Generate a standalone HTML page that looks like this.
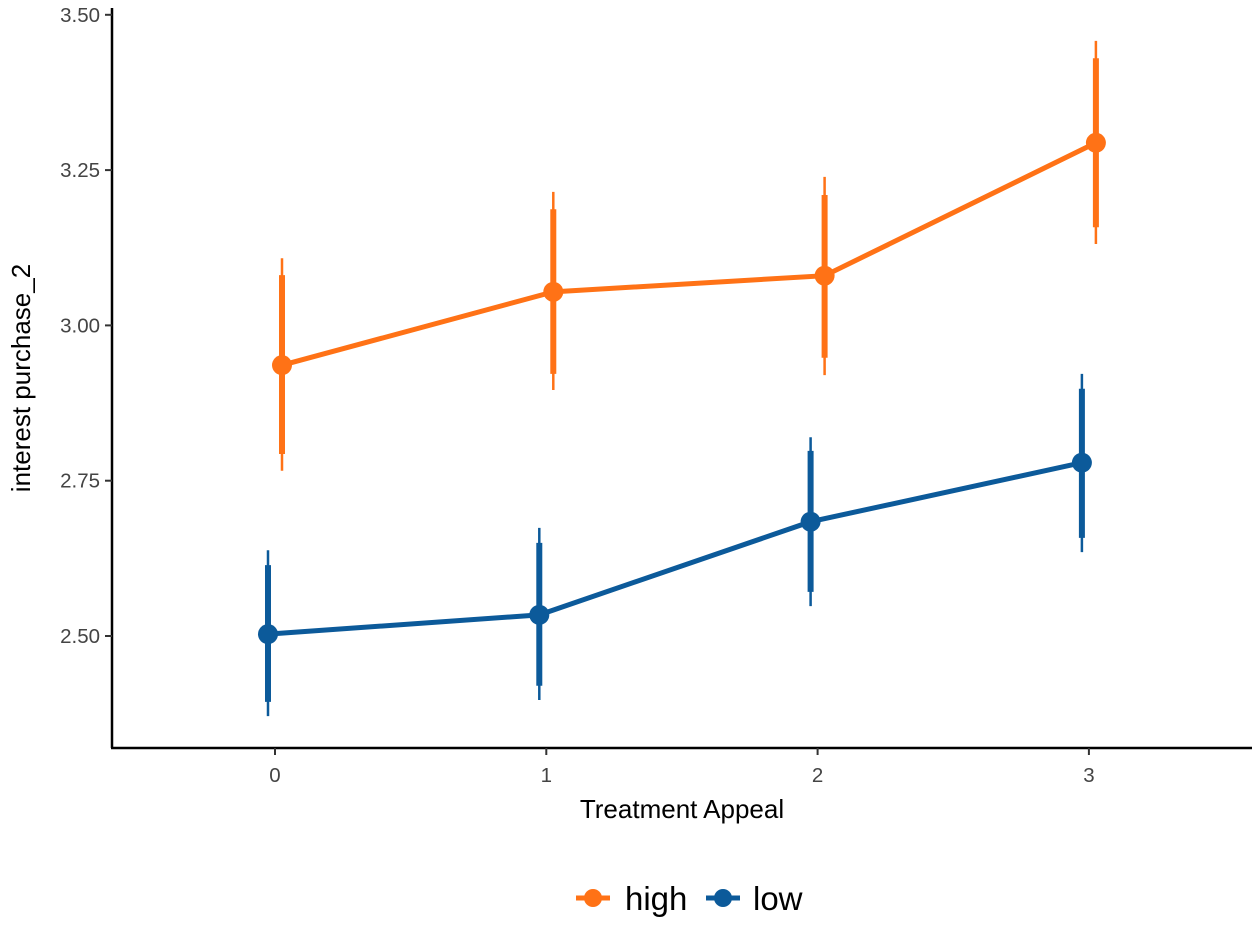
<!DOCTYPE html>
<html><head><meta charset="utf-8"><style>
body{margin:0;background:#fff;}
svg text{font-family:"Liberation Sans",Arial,sans-serif;}
</style></head><body>
<svg id="chart" width="1259" height="944">
<g id="axes"></g><g id="marks"></g>
<text x="682" y="818" text-anchor="middle" font-size="26" fill="#000">Treatment Appeal</text>
<text transform="translate(30,378) rotate(-90)" text-anchor="middle" font-size="26" fill="#000">interest purchase_2</text>
<g>
<g>
<line x1="576" y1="898" x2="610" y2="898" stroke="#FF7216" stroke-width="5"/>
<circle cx="593" cy="898" r="9" fill="#FF7216"/>
<text x="625" y="910" font-size="33" fill="#000">high</text></g>
<g>
<line x1="706" y1="898" x2="740" y2="898" stroke="#0C5A9A" stroke-width="5"/>
<circle cx="723" cy="898" r="9" fill="#0C5A9A"/>
<text x="753" y="910" font-size="33" fill="#000">low</text></g>
</g>
</svg>
<script>
const categories=[0,1,2,3];
const yTicks=[2.5,2.75,3.0,3.25,3.5];
const yTickLabels=["2.50","2.75","3.00","3.25","3.50"];
const highMean=[2.936,3.054,3.080,3.294];
const highLo80=[2.793,2.922,2.948,3.158];
const highHi80=[3.081,3.187,3.210,3.430];
const highLo95=[2.766,2.896,2.920,3.131];
const highHi95=[3.108,3.215,3.239,3.458];
const lowMean=[2.503,2.534,2.684,2.779];
const lowLo80=[2.394,2.420,2.571,2.658];
const lowHi80=[2.614,2.650,2.798,2.898];
const lowLo95=[2.371,2.397,2.548,2.635];
const lowHi95=[2.638,2.674,2.820,2.922];
const NS="http://www.w3.org/2000/svg";
const X=c=>275+c*271.3;
const Y=v=>636-(v-2.5)*621.2;
function mk(tag,attrs,parent){const e=document.createElementNS(NS,tag);for(const k in attrs)e.setAttribute(k,attrs[k]);parent.appendChild(e);return e;}
const ax=document.getElementById('axes'),mg=document.getElementById('marks');
let l=mk('line',{x1:112,y1:8,x2:112,y2:748,stroke:'#000','stroke-width':2.5},ax);


l=mk('line',{x1:111,y1:748,x2:1252,y2:748,stroke:'#000','stroke-width':2.5},ax);


yTicks.forEach((v,i)=>{
 const t=mk('line',{x1:105,x2:112,y1:Y(v),y2:Y(v),stroke:'#333','stroke-width':2},ax);
 
 
 const tx=mk('text',{x:100,y:Y(v)+7,'text-anchor':'end','font-size':20.5,fill:'#444'},ax);tx.textContent=yTickLabels[i];
 
 
});
categories.forEach(c=>{
 const t=mk('line',{x1:X(c),x2:X(c),y1:748,y2:755,stroke:'#333','stroke-width':2},ax);
 
 
 const tx=mk('text',{x:X(c),y:782,'text-anchor':'middle','font-size':20.5,fill:'#444'},ax);tx.textContent=String(c);
 
 
});
function series(name,mean,lo80,hi80,lo95,hi95,col,dx){
 const g=mk('g',{},mg);
 
 
 const pts=categories.map((c,i)=>(X(c)+dx)+','+Y(mean[i])).join(' ');
 const pl=mk('polyline',{points:pts,fill:'none',stroke:col,'stroke-width':5},g);
 
 
 categories.forEach((c,i)=>{
  const x=X(c)+dx;
  const a=mk('line',{x1:x,x2:x,y1:Y(lo95[i]),y2:Y(hi95[i]),stroke:col,'stroke-width':2.5},g);
  
  
  const b=mk('line',{x1:x,x2:x,y1:Y(lo80[i]),y2:Y(hi80[i]),stroke:col,'stroke-width':6},g);
  
  
  const p=mk('circle',{cx:x,cy:Y(mean[i]),r:10,fill:col},g);
  
  
 });
}
series('low',lowMean,lowLo80,lowHi80,lowLo95,lowHi95,'#0C5A9A',-7);
series('high',highMean,highLo80,highHi80,highLo95,highHi95,'#FF7216',7);
</script>
</body></html>
